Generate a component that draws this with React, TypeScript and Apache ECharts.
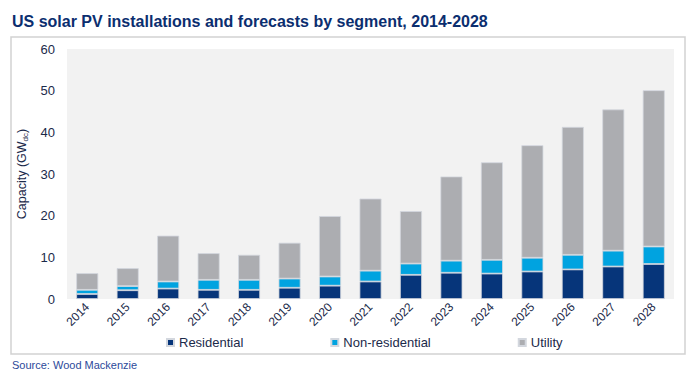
import React, { useEffect, useRef } from "react";
import * as echarts from "echarts";

const years = ["2014","2015","2016","2017","2018","2019","2020","2021","2022","2023","2024","2025","2026","2027","2028"];
const residential = [1.2, 2.1, 2.5, 2.2, 2.2, 2.7, 3.2, 4.2, 5.8, 6.3, 6.1, 6.6, 7.1, 7.8, 8.4];
const nonResidential = [1.0, 1.0, 1.7, 2.4, 2.4, 2.2, 2.2, 2.6, 2.7, 2.9, 3.3, 3.3, 3.5, 3.8, 4.2];
const utility = [4.0, 4.3, 11.0, 6.4, 6.0, 8.6, 14.5, 17.3, 12.6, 20.2, 23.4, 27.0, 30.7, 33.9, 37.5];

const FONT = "'Liberation Sans', Arial, sans-serif";
const NAVY = "#06357a";
const LBLUE = "#00a3e0";
const GREY = "#acadb1";
const TEXT = "#1b2a4a";

export default function App() {
  const ref = useRef<HTMLDivElement>(null);
  useEffect(() => {
    if (!ref.current) return;
    const chart = echarts.init(ref.current, null, { renderer: "svg" });
    const barStyle = (c: string) => ({ color: c, borderColor: "#d3d7de", borderWidth: 0.8 });
    chart.setOption({
      animation: false,
      textStyle: { fontFamily: FONT },
      graphic: [
        {
          type: "rect",
          shape: { x: 11, y: 37, width: 674, height: 317 },
          style: { fill: "none", stroke: "#d2d2d2", lineWidth: 1.5 },
          silent: true,
          z: -10,
        },
        {
          type: "text",
          x: 12,
          y: 21,
          style: {
            text: "US solar PV installations and forecasts by segment, 2014-2028",
            fontFamily: FONT,
            fontSize: 16,
            fontWeight: "bold",
            fill: "#0b2e6f",
            textVerticalAlign: "middle",
          },
        },
        {
          type: "text",
          x: 12,
          y: 365,
          style: {
            text: "Source: Wood Mackenzie",
            fontFamily: FONT,
            fontSize: 11,
            fill: "#2c4a9a",
            textVerticalAlign: "middle",
          },
        },
      ],
      legend: {
        left: 166,
        top: 336,
        padding: 0,
        itemWidth: 7,
        itemHeight: 7,
        itemGap: 87,
        icon: "rect",
        textStyle: { fontFamily: FONT, fontSize: 13, color: TEXT },
        data: ["Residential", "Non-residential", "Utility"],
      },
      grid: {
        left: 67,
        right: 22,
        top: 49,
        bottom: 84,
        show: true,
        backgroundColor: "#f2f2f2",
        borderWidth: 0,
      },
      xAxis: {
        type: "category",
        data: years,
        axisLine: { show: false },
        axisTick: { show: false },
        axisLabel: { rotate: 45, fontSize: 12, color: TEXT, margin: 6, fontFamily: FONT },
      },
      yAxis: {
        type: "value",
        min: 0,
        max: 60,
        interval: 10,
        axisLine: { show: false },
        axisTick: { show: false },
        splitLine: { show: false },
        axisLabel: { fontSize: 13, color: TEXT, margin: 12, fontFamily: FONT },
        name: "{a|Capacity (GW}{s|dc}{a|)}",
        nameLocation: "middle",
        nameGap: 31,
        nameTextStyle: {
          rich: {
            a: { fontSize: 12.5, color: TEXT, fontFamily: FONT, lineHeight: 16 },
            s: { fontSize: 8, color: TEXT, fontFamily: FONT, lineHeight: 16, verticalAlign: "bottom" },
          },
        },
      },
      series: [
        { name: "Residential", type: "bar", stack: "a", data: residential, barWidth: 22, itemStyle: barStyle(NAVY) },
        { name: "Non-residential", type: "bar", stack: "a", data: nonResidential, barWidth: 22, itemStyle: barStyle(LBLUE) },
        { name: "Utility", type: "bar", stack: "a", data: utility, barWidth: 22, itemStyle: barStyle(GREY) },
      ],
    });
    return () => chart.dispose();
  }, []);
  return <div ref={ref} style={{ position: "fixed", left: 0, top: 0, width: 696, height: 383, background: "#fff" }} />;
}
